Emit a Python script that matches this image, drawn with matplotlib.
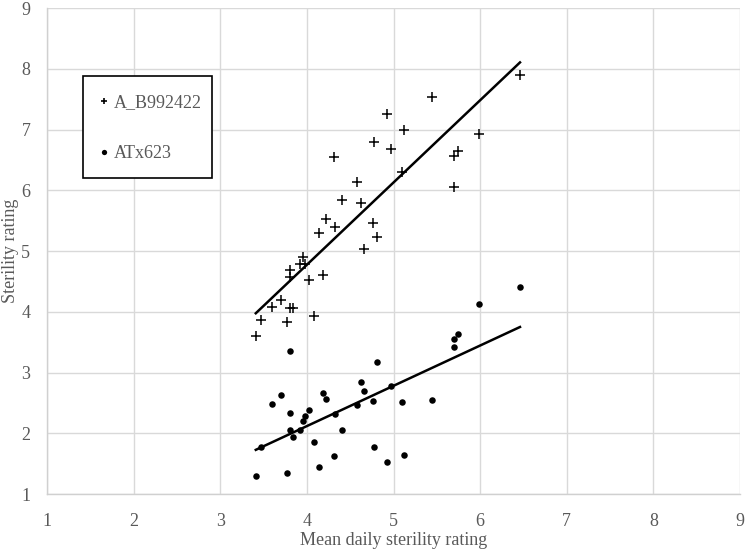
import numpy as np
import matplotlib
matplotlib.use("Agg")
import matplotlib.pyplot as plt
from matplotlib.lines import Line2D
from matplotlib.patches import Rectangle

# mean daily sterility rating (shared by both lines)
mean_daily = [6.46, 5.44, 4.92, 5.12, 5.99, 4.78, 4.97, 4.31, 5.70, 5.74,
              5.10, 5.70, 4.58, 4.41, 4.62, 4.22, 4.32, 4.76, 4.14, 4.81,
              4.66, 3.96, 3.92, 3.98, 3.81, 3.80, 4.02, 4.19, 3.70, 3.60,
              3.80, 3.84, 3.47, 3.77, 4.08, 3.41]

a_b992422 = [7.89, 7.53, 7.26, 6.99, 6.93, 6.79, 6.68, 6.55, 6.56, 6.65,
             6.30, 6.06, 6.14, 5.84, 5.79, 5.52, 5.39, 5.46, 5.30, 5.23,
             5.03, 4.91, 4.78, 4.78, 4.69, 4.57, 4.53, 4.60, 4.20, 4.08,
             4.06, 4.06, 3.87, 3.84, 3.93, 3.60]

atx623 = [4.40, 2.54, 1.52, 1.64, 4.12, 1.78, 2.78, 1.63, 3.55, 3.63,
          2.51, 3.42, 2.47, 2.06, 2.85, 2.56, 2.31, 2.53, 1.44, 3.18,
          2.69, 2.20, 2.05, 2.29, 3.36, 2.34, 2.39, 2.67, 2.63, 2.49,
          2.05, 1.94, 1.77, 1.34, 1.85, 1.29]

series_names = ["A_B992422", "ATx623"]
ticks = [1, 2, 3, 4, 5, 6, 7, 8, 9]

plt.rcParams['font.family'] = ['Liberation Serif', 'DejaVu Serif']
grey = '#595959'

fig = plt.figure(figsize=(7.49, 5.51), dpi=100)
ax = fig.add_axes([0.0628, 0.1034, 0.9252, 0.882])

x = np.array(mean_daily)
ax.scatter(x, a_b992422, marker='+', s=45, color='black', linewidths=1.1, zorder=3)
ax.scatter(x, atx623, marker='o', s=22, color='black', linewidths=0, zorder=3)

# linear trendlines
for ys in (a_b992422, atx623):
    m, b = np.polyfit(x, ys, 1)
    xx = np.array([x.min(), x.max()])
    ax.plot(xx, m * xx + b, color='black', linewidth=1.8, zorder=2)

ax.set_xlim(1, 9)
ax.set_ylim(1, 9)
ax.set_xticks(ticks)
ax.set_yticks(ticks)
ax.grid(True, color='#d9d9d9', linewidth=1.0)
ax.set_axisbelow(True)
for s in ['top', 'right']:
    ax.spines[s].set_visible(False)
for s in ['left', 'bottom']:
    ax.spines[s].set_color('#d0d0d0')
    ax.spines[s].set_linewidth(1.0)
ax.tick_params(length=0, labelsize=13, labelcolor=grey)
ax.tick_params(axis='x', pad=14)
ax.tick_params(axis='y', pad=12)

ax.set_xlabel("Mean daily sterility rating", fontsize=13, color=grey, va='center')
ax.set_ylabel("Sterility rating", fontsize=13, color=grey, va='center')
ax.xaxis.set_label_coords(0.5, -0.095)
ax.yaxis.set_label_coords(-0.053, 0.5)

# legend frame drawn separately so its padding can match
ax.add_patch(Rectangle((0.052, 0.650), 0.186, 0.210, transform=ax.transAxes,
                       facecolor='white', edgecolor='black', linewidth=1.2, zorder=4))
handles = [
    Line2D([], [], marker='+', linestyle='none', color='black', markersize=5, markeredgewidth=1.2),
    Line2D([], [], marker='o', linestyle='none', color='black', markersize=3.8, markeredgewidth=0),
]
leg = ax.legend(handles, series_names, loc='upper left', bbox_to_anchor=(0.077, 0.823),
                fontsize=13, labelspacing=1.89, handlelength=0.4, handletextpad=0.36,
                borderpad=0, borderaxespad=0, frameon=False, labelcolor=grey)
leg.set_zorder(5)

fig.savefig("out.png", dpi=100)
